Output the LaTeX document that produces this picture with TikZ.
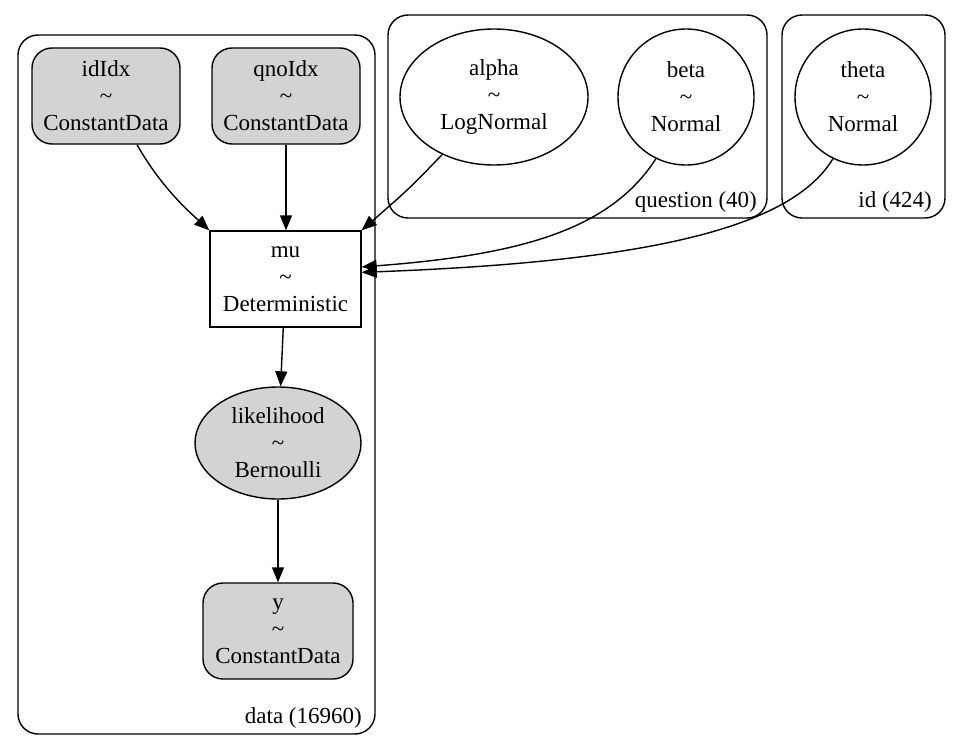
\documentclass[tikz,border=0pt]{standalone}
\usepackage{fontspec}
\setmainfont{Liberation Serif}
\usetikzlibrary{arrows.meta,shapes.geometric}
\definecolor{obsgray}{HTML}{D3D3D3}
\begin{document}
\begin{tikzpicture}[x=1pt,y=-1pt,
	font=\fontsize{23}{27}\selectfont,
	every node/.style={align=center, inner sep=0pt},
	plate/.style={draw, line width=1.4pt, rounded corners=20pt},
	databox/.style={draw, line width=1.4pt, fill=obsgray, rounded corners=20pt, minimum width=148pt, minimum height=96pt},
	detbox/.style={draw, line width=1.4pt, minimum width=151pt, minimum height=96pt},
	rv/.style={draw, line width=1.4pt, ellipse, minimum width=136pt, minimum height=136pt},
	link/.style={line width=1.4pt, -{Triangle[length=15pt,width=12pt]}}]
			\useasboundingbox (0,0) rectangle (957,741);
			% plates
			\draw[plate] (18,35) rectangle (375,734);
			\draw[plate] (388,15) rectangle (767,218);
			\draw[plate] (782,15) rectangle (945,218);
			\node[anchor=base east] (dataLab) at (362,723) {data (16960)};
			\node[anchor=base east] (questionLab) at (757,207) {question (40)};
			\node[anchor=base east] (idLab) at (932,207) {id (424)};
			% nodes
			\node[databox] (idIdx) at (106,96) {idIdx\\\textasciitilde\\ConstantData};
			\node[databox] (qnoIdx) at (286,96) {qnoIdx\\\textasciitilde\\ConstantData};
			\node[rv, minimum width=188pt] (alpha) at (494,97) {alpha\\\textasciitilde\\LogNormal};
			\node[rv] (beta) at (686,97) {beta\\\textasciitilde\\Normal};
			\node[rv] (theta) at (863,97) {theta\\\textasciitilde\\Normal};
			\node[detbox] (mu) at (285.5,279) {mu\\\textasciitilde\\Deterministic};
			\node[rv, fill=obsgray, minimum width=166pt, minimum height=112pt] (likelihood) at (278,443) {likelihood\\\textasciitilde\\Bernoulli};
			\node[databox, minimum width=150pt] (y) at (278,631) {y\\\textasciitilde\\ConstantData};
			% edges
			\draw[link] ([xshift=31pt]idIdx.south) .. controls (160,185) and (185,208) .. (mu.north west);
			\draw[link] (qnoIdx) -- (qnoIdx |- mu.north);
			\draw[link] (alpha.228) .. controls (410,188) .. (mu.north east);
			\draw[link] (beta.244) .. controls (610,230) and (520,255) .. (mu.9);
			\draw[link] (theta.244) .. controls (790,230) and (640,262) .. (mu.5);
			\draw[link] (mu) -- (likelihood);
			\draw[link] (likelihood) -- (y);
		\end{tikzpicture}
\end{document}
